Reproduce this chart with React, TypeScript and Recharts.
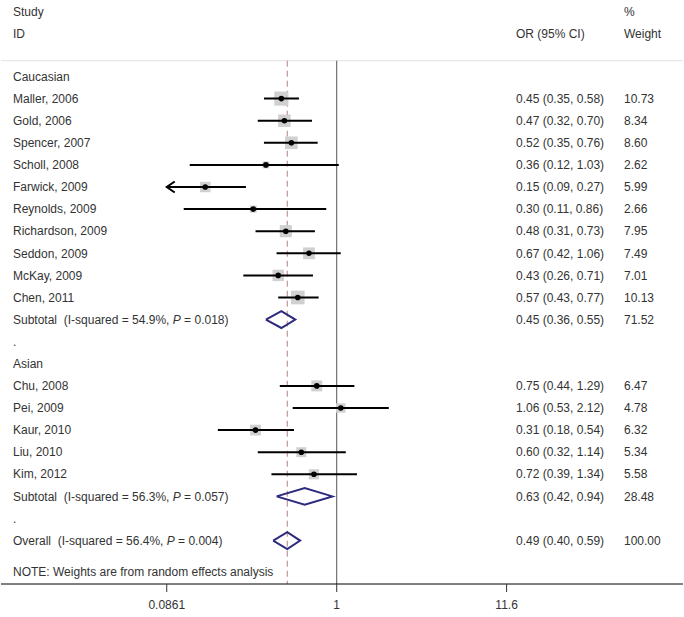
import React from "react";
import { ScatterChart, Scatter, XAxis, YAxis, ReferenceLine } from "recharts";

// ---------- data ----------
const cauStudies = ["Maller, 2006", "Gold, 2006", "Spencer, 2007", "Scholl, 2008", "Farwick, 2009", "Reynolds, 2009", "Richardson, 2009", "Seddon, 2009", "McKay, 2009", "Chen, 2011"];
const cauOR = [0.45, 0.47, 0.52, 0.36, 0.15, 0.30, 0.48, 0.67, 0.43, 0.57];
const cauLo = [0.35, 0.32, 0.35, 0.12, 0.086, 0.11, 0.31, 0.42, 0.26, 0.43];
const cauHi = [0.58, 0.70, 0.76, 1.03, 0.27, 0.86, 0.73, 1.06, 0.71, 0.77];
const cauW = [10.73, 8.34, 8.60, 2.62, 5.99, 2.66, 7.95, 7.49, 7.01, 10.13];

const asiStudies = ["Chu, 2008", "Pei, 2009", "Kaur, 2010", "Liu, 2010", "Kim, 2012"];
const asiOR = [0.75, 1.06, 0.31, 0.60, 0.72];
const asiLo = [0.44, 0.53, 0.18, 0.32, 0.39];
const asiHi = [1.29, 2.12, 0.54, 1.14, 1.34];
const asiW = [6.47, 4.78, 6.32, 5.34, 5.58];

const groupNames = ["Caucasian", "Asian"];
const subOR = [0.45, 0.63];
const subLo = [0.36, 0.42];
const subHi = [0.55, 0.94];
const subW = [71.52, 28.48];
const subI2 = [54.9, 56.3];
const subP = ["0.018", "0.057"];

const overallOR = 0.49;
const overallLo = 0.40;
const overallHi = 0.59;
const overallW = 100.0;
const overallI2 = 56.4;
const overallP = "0.004";

const xTicks = [0.0861, 1, 11.6];
const xTickLabels = ["0.0861", "1", "11.6"];
const noteText = "NOTE: Weights are from random effects analysis";

// ---------- layout / style ----------
const FONT = "'Liberation Sans', Arial, sans-serif";
const TXT = "#333333";
const NAVY = "#2e2a7e";
const BOX = "#d0d0d0";
const AXIS_MIN = xTicks[0];
const X_DOMAIN = [0.007881, 147.8];
const Y_TOP = -3.462;
const Y_BOTTOM = 22.964;
const SEP_R = -0.715;
const HDR1_R = -2.92;
const HDR2_R = -1.92;
const NOTE_R = 22.42;
const DH = 0.38;

type Row = {
  r: number;
  kind: "group" | "study" | "summary" | "dot";
  label: string;
  or?: number;
  lo?: number;
  hi?: number;
  w?: number;
  i2?: number;
  p?: string;
  summaryName?: string;
};

function buildRows(): Row[] {
  const rows: Row[] = [];
  let r = 0;
  const groups = [
    { s: cauStudies, o: cauOR, l: cauLo, h: cauHi, w: cauW },
    { s: asiStudies, o: asiOR, l: asiLo, h: asiHi, w: asiW },
  ];
  groups.forEach((g, gi) => {
    rows.push({ r: r++, kind: "group", label: groupNames[gi] });
    g.s.forEach((name, i) => {
      rows.push({ r: r++, kind: "study", label: name, or: g.o[i], lo: g.l[i], hi: g.h[i], w: g.w[i] });
    });
    rows.push({ r: r++, kind: "summary", label: "Subtotal", summaryName: "Subtotal", or: subOR[gi], lo: subLo[gi], hi: subHi[gi], w: subW[gi], i2: subI2[gi], p: subP[gi] });
    rows.push({ r: r++, kind: "dot", label: "." });
  });
  rows.push({ r: r++, kind: "summary", label: "Overall", summaryName: "Overall", or: overallOR, lo: overallLo, hi: overallHi, w: overallW, i2: overallI2, p: overallP });
  return rows;
}

const rows = buildRows();
const studyRows = rows.filter((d) => d.kind === "study");
const summaryRows = rows.filter((d) => d.kind === "summary");
const overallRow = summaryRows[summaryRows.length - 1];

const boxData = studyRows.map((d) => ({ x: d.or, y: d.r, w: d.w }));
const dotData = studyRows.map((d) => ({ x: d.or, y: d.r }));
const arrowData = studyRows.filter((d) => (d.lo as number) < AXIS_MIN).map((d) => ({ x: AXIS_MIN, y: d.r }));

const leftTicks = [HDR1_R, HDR2_R, ...rows.map((d) => d.r), NOTE_R];
const rightTicks = [HDR1_R, HDR2_R, ...rows.filter((d) => d.kind === "study" || d.kind === "summary").map((d) => d.r)];

const fmtCI = (d: Row) => `${(d.or as number).toFixed(2)} (${(d.lo as number).toFixed(2)}, ${(d.hi as number).toFixed(2)})`;

const txtProps = { fontSize: 12, fill: TXT, fontFamily: FONT, dy: "0.35em" } as const;

const LeftTick = (props: any) => {
  const v = props.payload?.value;
  const y = props.y;
  if (v === HDR1_R) return <text x={13} y={y} {...txtProps}>Study</text>;
  if (v === HDR2_R) return <text x={13} y={y} {...txtProps}>ID</text>;
  if (v === NOTE_R) return <text x={13} y={y} {...txtProps}>{noteText}</text>;
  const row = rows.find((d) => d.r === v);
  if (!row) return null;
  if (row.kind === "summary") {
    return (
      <text x={13} y={y} {...txtProps} style={{ whiteSpace: "pre" }}>
        {`${row.summaryName}  (I-squared = ${(row.i2 as number).toFixed(1)}%, `}
        <tspan fontStyle="italic">P</tspan>
        {` = ${row.p})`}
      </text>
    );
  }
  return <text x={13} y={y} {...txtProps}>{row.label}</text>;
};

const RightTick = (props: any) => {
  const v = props.payload?.value;
  const y = props.y;
  if (v === HDR1_R) return <text x={624} y={y} {...txtProps}>%</text>;
  if (v === HDR2_R)
    return (
      <g>
        <text x={516} y={y} {...txtProps}>OR (95% CI)</text>
        <text x={624} y={y} {...txtProps}>Weight</text>
      </g>
    );
  const row = rows.find((d) => d.r === v);
  if (!row) return null;
  return (
    <g>
      <text x={516} y={y} {...txtProps}>{fmtCI(row)}</text>
      <text x={624} y={y} {...txtProps}>{(row.w as number).toFixed(2)}</text>
    </g>
  );
};

const XTick = (props: any) => {
  const v = props.payload?.value;
  const idx = xTicks.indexOf(v);
  return (
    <text x={props.x} y={props.y + 15} textAnchor="middle" fontSize={12} fill={TXT} fontFamily={FONT}>
      {idx >= 0 ? xTickLabels[idx] : String(v)}
    </text>
  );
};

const BoxShape = (props: any) => {
  const { cx, cy, payload } = props;
  const s = 4.3 * Math.sqrt(payload.w);
  return <rect x={cx - s / 2} y={cy - s / 2} width={s} height={s} fill={BOX} />;
};
const DotShape = (props: any) => <circle cx={props.cx} cy={props.cy} r={2.8} fill="#000" />;
const ArrowShape = (props: any) => (
  <path d={`M${props.cx + 8},${props.cy - 5.5} L${props.cx},${props.cy} L${props.cx + 8},${props.cy + 5.5}`} fill="none" stroke="#000" strokeWidth={2} />
);
const NoShape = () => <g />;

export default function App() {
  return (
    <div style={{ position: "absolute", left: 0, top: 0, width: 684, height: 617, background: "#fff" }}>
      <ScatterChart width={684} height={617} margin={{ top: 0, right: 0, bottom: 0, left: 0 }}>
        <XAxis
          type="number"
          dataKey="x"
          scale="log"
          domain={X_DOMAIN}
          allowDataOverflow
          ticks={xTicks}
          interval={0}
          height={33}
          tickSize={8}
          axisLine={{ stroke: "#000", strokeWidth: 1 }}
          tickLine={{ stroke: "#333" }}
          tick={<XTick />}
        />
        <YAxis
          yAxisId="L"
          type="number"
          dataKey="y"
          domain={[Y_TOP, Y_BOTTOM]}
          allowDataOverflow
          reversed
          width={1}
          ticks={leftTicks}
          interval={0}
          axisLine={false}
          tickLine={false}
          tick={<LeftTick />}
        />
        <YAxis
          yAxisId="R"
          orientation="right"
          type="number"
          domain={[Y_TOP, Y_BOTTOM]}
          allowDataOverflow
          reversed
          width={1}
          ticks={rightTicks}
          interval={0}
          axisLine={false}
          tickLine={false}
          tick={<RightTick />}
        />
        <ReferenceLine yAxisId="L" y={SEP_R} stroke="#e2e2e2" strokeWidth={1} />
        <ReferenceLine
          yAxisId="L"
          segment={[{ x: 1, y: SEP_R }, { x: 1, y: Y_BOTTOM }]}
          stroke="#555"
          strokeWidth={1}
        />
        <ReferenceLine
          yAxisId="L"
          segment={[{ x: overallRow.or, y: SEP_R }, { x: overallRow.or, y: Y_BOTTOM }]}
          stroke="#b5847f"
          strokeWidth={1}
          strokeDasharray="6 4"
        />
        <Scatter yAxisId="L" data={boxData} shape={<BoxShape />} isAnimationActive={false} />
        {studyRows.map((d) => (
          <Scatter
            key={"ci" + d.r}
            yAxisId="L"
            data={[
              { x: Math.max(d.lo as number, AXIS_MIN), y: d.r },
              { x: d.hi, y: d.r },
            ]}
            line={{ stroke: "#000", strokeWidth: 2 }}
            shape={<NoShape />}
            isAnimationActive={false}
          />
        ))}
        <Scatter yAxisId="L" data={arrowData} shape={<ArrowShape />} isAnimationActive={false} />
        <Scatter yAxisId="L" data={dotData} shape={<DotShape />} isAnimationActive={false} />
        {summaryRows.map((d) => (
          <Scatter
            key={"dia" + d.r}
            yAxisId="L"
            data={[
              { x: d.lo, y: d.r },
              { x: d.or, y: d.r - DH },
              { x: d.hi, y: d.r },
              { x: d.or, y: d.r + DH },
              { x: d.lo, y: d.r },
            ]}
            line={{ stroke: NAVY, strokeWidth: 2, fill: "none", strokeLinejoin: "miter" }}
            shape={<NoShape />}
            isAnimationActive={false}
          />
        ))}
      </ScatterChart>
    </div>
  );
}
